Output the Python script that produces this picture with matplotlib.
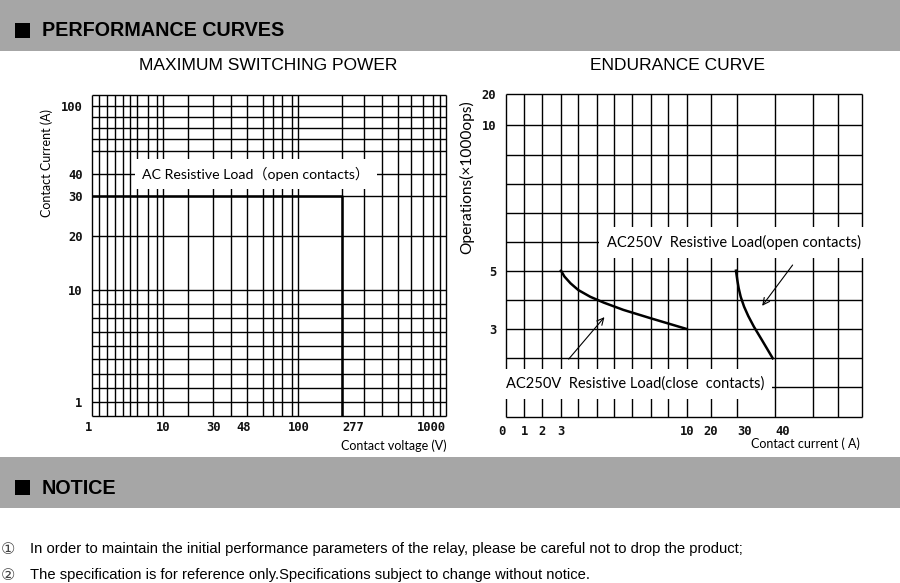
import numpy as np
import matplotlib
matplotlib.use("Agg")
import matplotlib.pyplot as plt
from matplotlib.patches import Rectangle

W, H = 900, 583

# ---- maximum switching power (left) ----
volt_grid = [1, 2, 3, 4, 5, 6, 7, 8, 9, 10, 20, 30, 40, 50, 60, 70, 80, 90, 100,
             277, 300, 400, 500, 600, 700, 800, 900, 1000]
curr_grid = [0, 1, 2, 3, 4, 5, 6, 7, 8, 10, 20, 30, 40, 60, 70, 80, 90, 100, 110]
volt_ticks = [1, 10, 30, 48, 100, 277, 1000]
curr_ticks = [1, 10, 20, 30, 40, 100]
power_v = [1, 277, 277]
power_i = [30, 30, 0]

# ---- endurance curve (right) ----
amp_grid = [0, 1, 2, 3, 4, 5, 6, 7, 8, 9, 10, 20, 30, 40, 50, 60, 70]
ops_grid = [0, 1, 2, 3, 4, 5, 6, 7, 8, 9, 10, 20]
amp_ticks = [0, 1, 2, 3, 10, 20, 30, 40]
ops_ticks = [3, 5, 10, 20]
close_a = [3, 3.2, 3.55, 4.0, 4.65, 5.4, 6.5, 8.0, 10]
close_ops = [5.0, 4.8, 4.57, 4.34, 4.11, 3.91, 3.66, 3.37, 3.0]
open_a = [29.5, 30.0, 30.37, 30.9, 31.8, 32.9, 34.4, 36.5, 39.4]
open_ops = [5.0, 4.68, 4.40, 4.11, 3.77, 3.45, 3.08, 2.63, 2.0]

# where the hand drawn grid lines sit on the sheet (pixels)
volt_px = [92.3, 99, 106.7, 115, 123.3, 130, 137.3, 147.7, 156.7, 162.7, 187.7, 213.3,
           231, 247.3, 263.3, 272.7, 282.3, 291.7, 298.3, 342.3, 364.3, 381.7, 397.7,
           411, 422.7, 433.3, 440, 446]
curr_px = [415.7, 401.7, 387.7, 374, 359.3, 345.7, 331.7, 318.3, 304.3, 290, 235.7,
           195.7, 174, 150.7, 139.3, 128.3, 116.7, 105.7, 95]
amp_px = [506, 524.3, 542.3, 561, 578.3, 596.7, 614.3, 632.3, 650.7, 668.3, 686.7,
          711, 737.3, 775, 813.3, 838.3, 862.3]
ops_px = [416.7, 386.7, 358.3, 329, 300, 270.7, 242.3, 213.3, 184, 155, 125, 94.3]

BAND = '#a6a6a6'
LBL = ['Lato', 'Noto Sans CJK SC', 'DejaVu Sans']
NUM = 'DejaVu Sans Mono'


def grid_axes(fig, xv, xp, yv, yp):
    ax = fig.add_axes([xp[0] / W, 1 - yp[0] / H, (xp[-1] - xp[0]) / W, (yp[0] - yp[-1]) / H])
    xv, xp, yv, yp = map(np.asarray, (xv, xp, yv, yp))
    ax.set_xscale('function', functions=(lambda v: np.interp(v, xv, xp),
                                         lambda p: np.interp(p, xp, xv)))
    ax.set_yscale('function', functions=(lambda v: -np.interp(v, yv, yp),
                                         lambda p: np.interp(-p, yp[::-1], yv[::-1])))
    ax.set_xlim(xv[0], xv[-1])
    ax.set_ylim(yv[0], yv[-1])
    ax.vlines(xv, yv[0], yv[-1], color='black', lw=1.0, zorder=1, clip_on=False)
    ax.hlines(yv, xv[0], xv[-1], color='black', lw=1.0, zorder=1, clip_on=False)
    for s in ax.spines.values():
        s.set_visible(False)
    ax.set_facecolor('none')
    return ax


def ticks(ax, xt, yt, xpad, ypad):
    ax.set_xticks(xt, [str(t) for t in xt])
    ax.set_yticks(yt, [str(t) for t in yt])
    ax.minorticks_off()
    ax.tick_params(length=0, labelsize=8.7, colors='#111111')
    ax.tick_params(axis='x', pad=xpad)
    ax.tick_params(axis='y', pad=ypad)
    for lab in ax.get_xticklabels() + ax.get_yticklabels():
        lab.set_fontfamily(NUM)
        lab.set_fontweight('bold')


fig = plt.figure(figsize=(W / 100, H / 100), dpi=100)

# section bands
for top, title in [(0, 'PERFORMANCE CURVES'), (457, 'NOTICE')]:
    fig.patches.append(Rectangle((0, 1 - (top + 51) / H), 1, 51 / H,
                                 transform=fig.transFigure, fc=BAND, ec='none'))
    fig.patches.append(Rectangle((15 / W, 1 - (top + 38) / H), 15 / W, 15 / H,
                                 transform=fig.transFigure, fc='black', ec='none'))
    fig.text(42 / W, 1 - (top + 31) / H, title, fontsize=14.2, fontweight='bold',
             family='Liberation Sans', va='center', ha='left')

fig.text(268 / W, 1 - 65 / H, 'MAXIMUM SWITCHING POWER', fontsize=12.5,
         family='Liberation Sans', ha='center', va='center')
fig.text(677 / W, 1 - 65 / H, 'ENDURANCE CURVE', fontsize=12.5,
         family='Liberation Sans', ha='center', va='center')

# left chart
ax1 = grid_axes(fig, volt_grid, volt_px, curr_grid, curr_px)
ticks(ax1, volt_ticks, curr_ticks, 4, 7)
labs = ax1.get_xticklabels()
labs[0].set_ha('right')
labs[5].set_ha('left')
labs[6].set_ha('right')
ax1.plot(power_v, power_i, color='black', lw=1.8, zorder=4, clip_on=False,
         solid_capstyle='butt')
ax1.text(7.5, 40, 'AC Resistive Load（open contacts）', fontsize=10.2, family=LBL,
         ha='left', va='center', zorder=3,
         bbox=dict(boxstyle='square,pad=0.55', fc='white', ec='none'))
fig.text(47 / W, 1 - 163 / H, 'Contact Current (A)', rotation=90, fontsize=9,
         family=LBL, ha='center', va='center')
fig.text(447 / W, 1 - 446 / H, 'Contact voltage (V)', fontsize=9, family=LBL,
         ha='right', va='center')

# right chart
ax2 = grid_axes(fig, amp_grid, amp_px, ops_grid, ops_px)
ticks(ax2, amp_ticks, ops_ticks, 6, 7)
labs = ax2.get_xticklabels()
labs[0].set_ha('right')
labs[6].set_ha('left')
labs[7].set_ha('left')
ax2.plot(close_a, close_ops, color='black', lw=1.8, zorder=4)
ax2.plot(open_a, open_ops, color='black', lw=1.8, zorder=4)
ax2.text(5.6, 6, 'AC250V  Resistive Load(open contacts)', fontsize=10.5, family=LBL,
         ha='left', va='center', zorder=3,
         bbox=dict(boxstyle='square,pad=0.55', fc='white', ec='none'))
ax2.text(0, 1.1, 'AC250V  Resistive Load(close  contacts)', fontsize=10.5, family=LBL,
         ha='left', va='center', zorder=3,
         bbox=dict(boxstyle='square,pad=0.55', fc='white', ec='none'))
arrow = dict(arrowstyle='->', lw=0.8, color='black', shrinkA=0, shrinkB=0,
             mutation_scale=12)
ax2.annotate('', xy=(5.44, 3.41), xytext=(3.44, 1.97), arrowprops=arrow, zorder=4)
ax2.annotate('', xy=(36.6, 3.8), xytext=(44.6, 5.2), arrowprops=arrow, zorder=4,
             annotation_clip=False)
fig.text(467 / W, 1 - 177 / H, 'Operations(×1000ops)', rotation=90, fontsize=11.2,
         family=LBL, ha='center', va='center')
fig.text(860 / W, 1 - 444 / H, 'Contact current ( A)', fontsize=9, family=LBL,
         ha='right', va='center')

# notice lines
notes = ['In order to maintain the initial performance parameters of the relay, '
         'please be careful not to drop the product;',
         'The specification is for reference only.Specifications subject to change '
         'without notice.']
for i, (y, txt) in enumerate(zip([549, 575], notes)):
    fig.text(8 / W, 1 - y / H, '①②'[i], fontsize=11.5, family='DejaVu Sans',
             color='#444444', ha='center', va='center')
    fig.text(30 / W, 1 - y / H, txt, fontsize=10.6,
             family='Liberation Sans', ha='left', va='center')

fig.savefig('out.png', dpi=100)
